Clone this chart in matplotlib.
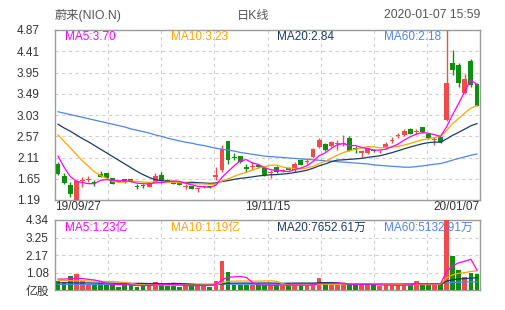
import matplotlib
matplotlib.use('Agg')
import matplotlib.pyplot as plt
import numpy as np

plt.rcParams['font.family'] = ['Liberation Sans', 'Noto Sans CJK SC', 'DejaVu Sans']

title_left = '蔚来(NIO.N)'
title_mid = '日K线'
title_right = '2020-01-07 15:59'
date_labels = ['19/09/27', '19/11/15', '20/01/07']

opens = [1.98, 1.71, 1.515, 1.19, 1.60, 1.62, 1.59, 1.75, 1.77, 1.66,
         1.60, 1.64, 1.645, 1.49, 1.495, 1.48, 1.56, 1.73, 1.63, 1.58,
         1.57, 1.48, 1.49, 1.42, 1.47, 1.48, 1.68, 1.85, 2.47, 2.13,
         2.14, 1.90, 1.91, 1.95, 1.88, 1.77, 1.90, 1.81, 1.88, 1.84,
         2.06, 2.01, 2.13, 2.33, 2.40, 2.36, 2.40, 2.40, 2.54, 2.32,
         2.21, 2.20, 2.27, 2.24, 2.31, 2.47, 2.58, 2.60, 2.72, 2.66,
         2.76, 2.62, 2.49, 2.55, 2.92, 4.16, 4.11, 3.50, 4.19, 3.70]
highs = [2.01, 1.77, 1.59, 1.62, 1.69, 1.71, 1.62, 1.82, 1.78, 1.67,
         1.61, 1.65, 1.65, 1.54, 1.53, 1.58, 1.78, 1.80, 1.64, 1.59,
         1.58, 1.54, 1.50, 1.46, 1.49, 1.49, 1.91, 2.38, 2.47, 2.21,
         2.15, 1.98, 2.01, 1.98, 1.89, 1.84, 1.92, 1.86, 1.90, 2.02,
         2.07, 2.10, 2.32, 2.53, 2.42, 2.47, 2.49, 2.60, 2.58, 2.35,
         2.27, 2.32, 2.30, 2.28, 2.44, 2.55, 2.65, 2.72, 2.74, 2.73,
         2.78, 2.64, 2.55, 2.56, 4.87, 4.44, 4.15, 3.92, 4.24, 3.72]
lows = [1.73, 1.54, 1.25, 1.19, 1.47, 1.59, 1.49, 1.68, 1.64, 1.53,
        1.58, 1.56, 1.58, 1.43, 1.45, 1.47, 1.55, 1.55, 1.60, 1.53,
        1.51, 1.42, 1.42, 1.37, 1.46, 1.45, 1.62, 1.80, 1.97, 2.06,
        2.00, 1.80, 1.84, 1.88, 1.72, 1.66, 1.77, 1.79, 1.83, 1.80,
        1.94, 1.98, 2.11, 2.32, 2.24, 2.34, 2.27, 2.36, 2.24, 2.21,
        2.13, 2.19, 2.22, 2.20, 2.30, 2.42, 2.53, 2.58, 2.61, 2.62,
        2.65, 2.52, 2.38, 2.43, 2.90, 3.90, 3.64, 3.49, 3.64, 3.22]
closes = [1.75, 1.55, 1.32, 1.60, 1.62, 1.63, 1.55, 1.69, 1.66, 1.54,
          1.59, 1.57, 1.59, 1.48, 1.485, 1.56, 1.70, 1.60, 1.61, 1.54,
          1.52, 1.50, 1.43, 1.44, 1.48, 1.47, 1.73, 2.29, 2.06, 2.10,
          2.01, 1.86, 1.93, 1.90, 1.74, 1.80, 1.79, 1.84, 1.85, 1.98,
          1.95, 2.04, 2.29, 2.49, 2.27, 2.45, 2.43, 2.42, 2.26, 2.29,
          2.24, 2.31, 2.25, 2.26, 2.40, 2.49, 2.60, 2.68, 2.62, 2.69,
          2.66, 2.53, 2.52, 2.44, 3.72, 4.00, 3.73, 3.82, 3.68, 3.23]
volumes = [0.56, 0.52, 0.87, 1.01, 0.58, 0.33, 0.31, 0.45, 0.35, 0.31,
           0.21, 0.33, 0.33, 0.21, 0.25, 0.29, 0.49, 0.39, 0.25, 0.23,
           0.21, 0.35, 0.29, 0.31, 0.25, 0.21, 0.56, 1.82, 1.14, 0.33,
           0.33, 0.29, 0.29, 0.29, 0.33, 0.29, 0.31, 0.25, 0.35, 0.33,
           0.29, 0.25, 0.35, 0.77, 0.35, 0.33, 0.31, 0.39, 0.45, 0.33,
           0.32, 0.36, 0.32, 0.24, 0.28, 0.32, 0.28, 0.36, 0.36, 0.57,
           0.35, 0.29, 0.33, 0.43, 4.34, 2.11, 1.24, 0.79, 1.05, 0.97]

ma5_head = [2.14, 1.90, 1.70, 1.60]
ma10_head = [2.60, 2.46, 2.32, 2.18, 2.04, 1.92, 1.80, 1.72, 1.66]
ma20_head = [2.83, 2.75, 2.68, 2.60, 2.52, 2.45, 2.37, 2.29, 2.21, 2.13,
             2.05, 1.97, 1.89, 1.81, 1.74, 1.68, 1.63, 1.61, 1.59]
ma60_head = [3.10, 3.07, 3.04, 3.01, 2.98, 2.95, 2.92, 2.89, 2.86, 2.83,
             2.80, 2.77, 2.73, 2.70, 2.67, 2.64, 2.60, 2.57, 2.53, 2.50,
             2.47, 2.44, 2.42, 2.39, 2.37, 2.34, 2.31, 2.29, 2.27, 2.25,
             2.22, 2.20, 2.18, 2.16, 2.14, 2.13, 2.12, 2.11, 2.10, 2.09,
             2.08, 2.07, 2.06, 2.05, 2.04, 2.03, 2.02, 2.01, 2.00, 1.99,
             1.98, 1.97, 1.95, 1.94, 1.93, 1.92, 1.91, 1.90, 1.90]
vma5_head = [0.68, 0.68, 0.70, 0.72]
vma10_head = [0.58, 0.58, 0.58, 0.57, 0.57, 0.56, 0.55, 0.54, 0.53]
vma20_head = [0.45, 0.45, 0.45, 0.44, 0.44, 0.44, 0.43, 0.43, 0.43, 0.42,
              0.42, 0.42, 0.41, 0.41, 0.41, 0.40, 0.40, 0.39, 0.39]
vma60_head = [0.35] * 20 + [0.36] * 20 + [0.38] * 19

price_ticks = [1.19, 1.65, 2.11, 2.57, 3.03, 3.49, 3.95, 4.41, 4.87]
vol_ticks = [0, 1.085, 2.17, 3.255, 4.34]
vol_tick_labels = ['亿股', '1.08', '2.17', '3.25', '4.34']
legend_price = ['MA5:3.70', 'MA10:3.23', 'MA20:2.84', 'MA60:2.18']
legend_vol = ['MA5:1.23亿', 'MA10:1.19亿', 'MA20:7652.61万', 'MA60:5132.91万']

ma_colors = ['#ff00ff', '#ffa500', '#1b3a66', '#4d86ee']
up_color = '#f24b4b'
down_color = '#0f8f0f'
grid_color = '#cfcfcf'
frame_color = '#9c9c9c'
text_color = '#333333'


def moving_avg(values, n, head):
    v = np.asarray(values, float)
    out = np.empty(len(v))
    out[:len(head)] = head
    for i in range(len(head), len(v)):
        out[i] = v[i - n + 1:i + 1].mean()
    return out


o = np.array(opens); h = np.array(highs); l = np.array(lows); c = np.array(closes)
vol = np.array(volumes)
n = len(c)
x = np.arange(n)
up = c >= o
cols = np.where(up, up_color, down_color)

mas = [moving_avg(c, 5, ma5_head), moving_avg(c, 10, ma10_head),
       moving_avg(c, 20, ma20_head), moving_avg(c, 60, ma60_head)]
vmas = [moving_avg(vol, 5, vma5_head), moving_avg(vol, 10, vma10_head),
        moving_avg(vol, 20, vma20_head), moving_avg(vol, 60, vma60_head)]

W, H = 505, 310
fig = plt.figure(figsize=(W / 100, H / 100), dpi=100)
ax = fig.add_axes([55 / W, 110 / H, 425 / W, 170 / H])
axv = fig.add_axes([55 / W, 20 / H, 425 / W, 70 / H])

xdiv = [-0.5 + n * k / 8 for k in range(1, 8)]

for a in (ax, axv):
    a.set_xlim(-0.5, n - 0.5)
    a.set_xticks(xdiv)
    a.tick_params(axis='x', length=0, labelbottom=False)
    a.grid(True, linestyle=(0, (3, 3)), color=grid_color, linewidth=0.8)
    a.set_axisbelow(True)
    for s in a.spines.values():
        s.set_color(frame_color)
        s.set_linewidth(1.0)

# price panel
ax.vlines(x, l, h, colors=cols, linewidth=1.0, zorder=2)
ax.bar(x, np.maximum(np.abs(c - o), 0.02), bottom=np.minimum(o, c), width=0.8,
       color=cols, linewidth=0, zorder=3)
for m, col in zip(mas[::-1], ma_colors[::-1]):
    ax.plot(x, m, color=col, linewidth=0.9, zorder=4)
ax.set_ylim(price_ticks[0], price_ticks[-1])
ax.set_yticks(price_ticks)
ax.set_yticklabels([f'{t:.2f}' for t in price_ticks])
ax.tick_params(axis='y', length=0, pad=11, labelsize=8.5, labelcolor=text_color)

for k, (txt, col) in enumerate(zip(legend_price, ma_colors)):
    ax.text((10 + k * 106.25) / 425, 1 - 7 / 170, txt, transform=ax.transAxes,
            ha='left', va='center', fontsize=8.5, color=col, zorder=5)

# volume panel
axv.bar(x, vol, width=0.78, color=cols, linewidth=0, zorder=3)
for m, col in zip(vmas[::-1], ma_colors[::-1]):
    axv.plot(x, m, color=col, linewidth=0.9, zorder=4)
axv.set_ylim(0, vol_ticks[-1])
axv.set_yticks(vol_ticks)
axv.set_yticklabels(vol_tick_labels)
axv.tick_params(axis='y', length=0, pad=4.5, labelsize=8.5, labelcolor=text_color)
for k, (txt, col) in enumerate(zip(legend_vol, ma_colors)):
    axv.text((10 + k * 106.25) / 425, 1 - 8 / 70, txt, transform=axv.transAxes,
             ha='left', va='center', fontsize=8.5, color=col, zorder=5)

# date labels
for txt, px, ha in zip(date_labels, [55, 267.5, 480], ['left', 'center', 'right']):
    fig.text(px / W, 1 - 207.5 / H, txt, ha=ha, va='center', fontsize=8.5, color=text_color)

# header
fig.text(55 / W, 1 - 15.5 / H, title_left, ha='left', va='center', fontsize=8.8, color='#555555')
fig.text(253 / W, 1 - 15.5 / H, title_mid, ha='center', va='center', fontsize=8.8, color='#555555')
fig.text(480 / W, 1 - 15.5 / H, title_right, ha='right', va='center', fontsize=8.8, color='#555555')

fig.savefig('out.png', dpi=100, facecolor='white')
